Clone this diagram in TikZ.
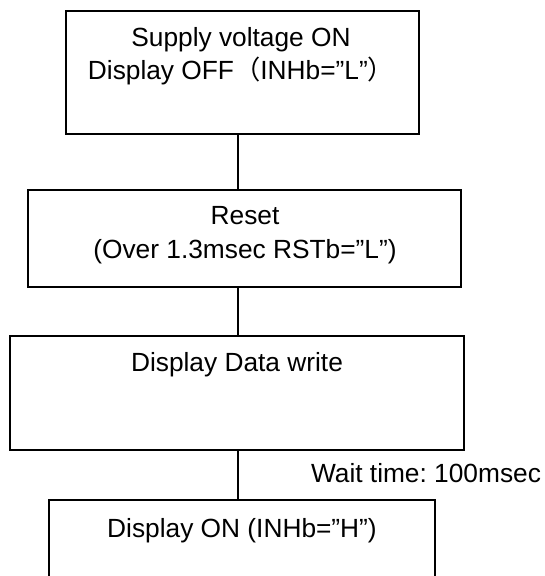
\documentclass[tikz,border=0pt]{standalone}
\usepackage{fontspec}
\setmainfont{Liberation Sans}
\newfontfamily\cjk{Noto Sans CJK SC}
\usepackage{tikz}
\frenchspacing

\begin{document}
\begin{tikzpicture}[x=1pt, y=-1pt, line width=1.3pt,
    stage/.style={draw, rectangle, inner sep=0pt},
    stagetext/.style={anchor=north, align=center, inner sep=0pt, font=\fontsize{26.3}{33.5}\selectfont}]
    \useasboundingbox (0,0) rectangle (544,576);
    \clip (0,0) rectangle (544,576);
    \node[stage, minimum width=353pt, minimum height=123pt] (supply) at (242.5,72.5) {};
    \node[stage, minimum width=433pt, minimum height=97pt] (reset) at (244.5,238.5) {};
    \node[stage, minimum width=454pt, minimum height=114pt] (datawrite) at (237,393) {};
    \node[stage, minimum width=386pt, minimum height=120pt] (displayon) at (242,560) {};
    \node[stagetext] (supplytext) at (241,26.5) {Supply voltage ON\\Display OFF{\cjk （}INHb=”L”{\cjk ）}};
    \node[stagetext] (resettext) at (245,206) {Reset\\(Over 1.3msec RSTb=”L”)};
    \node[stagetext] (datawritetext) at (237,352) {Display Data write};
    \node[stagetext] (displayontext) at (242,518) {Display ON (INHb=”H”)};
    \node[stagetext] (wait) at (426,463) {Wait time: 100msec};
    \coordinate (axis) at (238,0);
    \draw (supply.south -| axis) -- (reset.north -| axis);
    \draw (reset.south -| axis) -- (datawrite.north -| axis);
    \draw (datawrite.south -| axis) -- (displayon.north -| axis);
\end{tikzpicture}
\end{document}
